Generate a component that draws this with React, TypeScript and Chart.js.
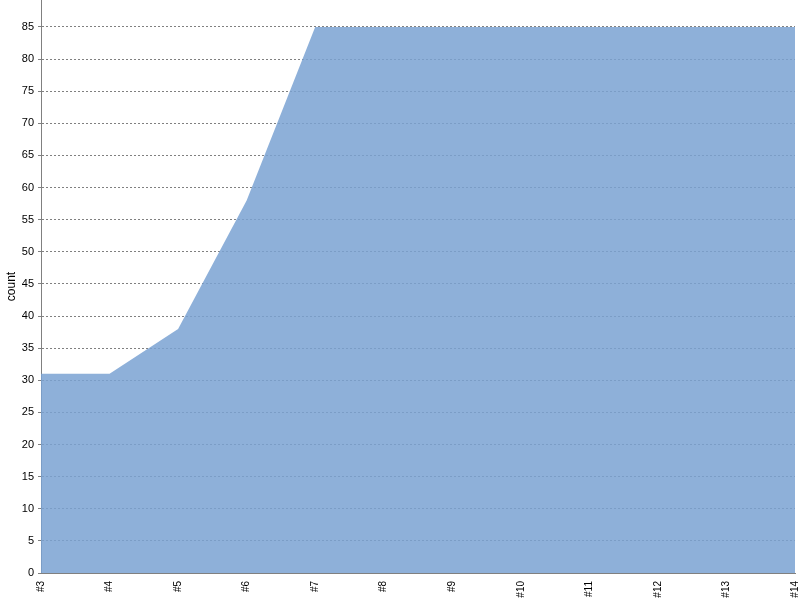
import React, { useEffect, useRef } from 'react'
import { Chart, registerables } from 'chart.js'

Chart.register(...registerables)

const labels = ['#3', '#4', '#5', '#6', '#7', '#8', '#9', '#10', '#11', '#12', '#13', '#14']
const counts = [31, 31, 38, 58, 85, 85, 85, 85, 85, 85, 85, 85]

const FONT = 'Liberation Sans, Arial, sans-serif'

const App: React.FC = () => {
  const chartRef = useRef<HTMLCanvasElement | null>(null)

  useEffect(() => {
    if (!chartRef.current) return
    const ctx = chartRef.current.getContext('2d')
    if (!ctx) return

    const chart = new Chart(ctx, {
      type: 'line',
      data: {
        labels,
        datasets: [
          {
            data: counts,
            fill: 'origin',
            backgroundColor: 'rgba(122,162,210,0.85)',
            borderWidth: 0,
            pointRadius: 0,
            tension: 0,
          },
        ],
      },
      options: {
        animation: false,
        responsive: false,
        layout: { padding: { top: 0, right: 5, left: 0, bottom: 0 } },
        plugins: { legend: { display: false }, tooltip: { enabled: false } },
        scales: {
          x: {
            offset: false,
            grid: { display: false },
            border: { color: '#808080' },
            ticks: {
              minRotation: 90,
              maxRotation: 90,
              autoSkip: false,
              padding: 0,
              color: '#000',
              font: { family: FONT, size: 10 },
            },
            afterFit: (s: any) => {
              s.height = 27
              s.paddingLeft = 0
              s.paddingRight = 0
            },
          },
          y: {
            min: 0,
            max: 89.2,
            border: { color: '#808080', dash: [2, 2] },
            grid: {
              color: '#808080',
              tickLength: 3,
            },
            ticks: {
              stepSize: 5,
              padding: 4,
              color: '#000',
              font: { family: FONT, size: 11 },
            },
            afterBuildTicks: (s: any) => {
              s.ticks = s.ticks.filter((t: any) => t.value % 5 === 0)
            },
            title: {
              display: true,
              text: 'count',
              color: '#000',
              font: { family: FONT, size: 12 },
              padding: { top: 4, bottom: 0 },
            },
            afterFit: (s: any) => {
              s.width = 41
              s.paddingTop = 0
              s.paddingBottom = 0
            },
          },
        },
      },
    } as any)

    return () => {
      chart.destroy()
    }
  }, [])

  return (
    <div style={{ position: 'absolute', left: 0, top: 0, width: '800px', height: '600px' }}>
      <canvas ref={chartRef} width={800} height={600} />
    </div>
  )
}

export default App
